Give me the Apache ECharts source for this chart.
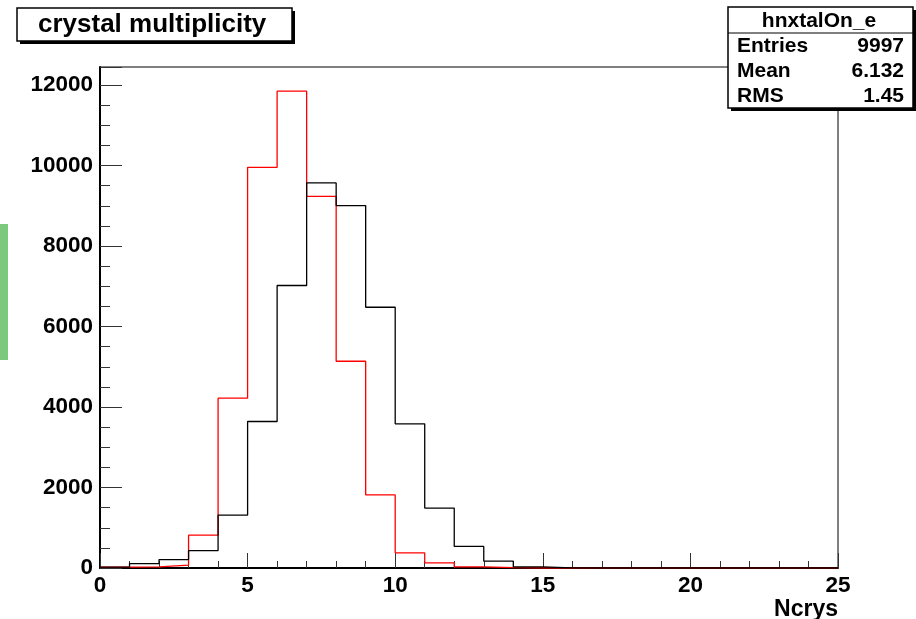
<!DOCTYPE html>
<html>
<head>
<meta charset="utf-8">
<script src="https://cdn.jsdelivr.net/npm/echarts@6/dist/echarts.min.js"></script>
<style>html,body{margin:0;padding:0;background:#fff}#c{width:916px;height:619px}</style>
</head>
<body>
<div id="c"></div>
<script>
// Bin low edges (Ncrys), 25 bins of width 1 from 0 to 25
const binEdges = [0,1,2,3,4,5,6,7,8,9,10,11,12,13,14,15,16,17,18,19,20,21,22,23,24];
// hnxtalOn_e (red) bin contents
const redCounts = [20,30,70,815,4220,9958,11850,9237,5138,1815,377,128,30,10,0,0,0,0,0,0,0,0,0,0,0];
// second histogram (black) bin contents
const blackCounts = [20,110,210,430,1315,3640,7020,9570,9006,6480,3582,1490,535,170,30,5,0,0,0,0,0,0,0,0,0];
const xTicks = [0,5,10,15,20,25];
const yTicks = [0,2000,4000,6000,8000,10000,12000];
const statsLabels = ['Entries','Mean','RMS'];
const statsValues = ['9997','6.132','1.45'];
const histName = 'hnxtalOn_e';
const titleText = 'crystal multiplicity';

const FONT = 'Liberation Sans';
function stepData(counts){
  const d = counts.map((v,i)=>[binEdges[i], v]);
  d.push([binEdges[binEdges.length-1]+1, counts[counts.length-1]]);
  return d;
}

const chart = echarts.init(document.getElementById('c'), null, {renderer:'canvas'});

const statsFont = 'bold 21px "'+FONT+'"';
const statsGraphics = [];
statsGraphics.push({type:'rect', z:100, shape:{x:731,y:10,width:185,height:101}, style:{fill:'#000'}});
statsGraphics.push({type:'rect', z:101, shape:{x:728,y:7,width:185,height:101}, style:{fill:'#fff', stroke:'#000', lineWidth:1.5}});
statsGraphics.push({type:'line', z:102, shape:{x1:728,y1:33,x2:913,y2:33}, style:{stroke:'#000', lineWidth:1}});
statsGraphics.push({type:'text', z:103, x:819, y:21, style:{text:histName, font:statsFont, fill:'#000', align:'center', verticalAlign:'middle'}});
const rowY = [46, 71, 96];
statsLabels.forEach((lab,i)=>{
  statsGraphics.push({type:'text', z:103, x:737, y:rowY[i], style:{text:lab, font:statsFont, fill:'#000', align:'left', verticalAlign:'middle'}});
  statsGraphics.push({type:'text', z:103, x:904, y:rowY[i], style:{text:statsValues[i], font:statsFont, fill:'#000', align:'right', verticalAlign:'middle'}});
});

const option = {
  animation:false,
  backgroundColor:'#fff',
  title:{
    text:titleText, left:38, top:10, padding:0, z:10,
    textStyle:{fontFamily:FONT, fontWeight:'bold', fontSize:26, color:'#000', lineHeight:30}
  },
  grid:{left:100, right:78, top:67, bottom:51, containLabel:false, outerBoundsMode:'none',
    show:true, borderColor:'#000', borderWidth:1, backgroundColor:'transparent'},
  xAxis:{
    type:'value', min:0, max:25, interval:5,
    name:'Ncrys', nameLocation:'end', nameGap:0,
    nameTextStyle:{fontFamily:FONT, fontWeight:'bold', fontSize:23, color:'#000', align:'right', verticalAlign:'top', padding:[30,0,0,0]},
    axisLine:{show:true, onZero:false, lineStyle:{color:'#000', width:2}},
    axisTick:{show:true, inside:true, length:15, lineStyle:{color:'#333', width:1}},
    minorTick:{show:true, splitNumber:5, length:7, lineStyle:{color:'#333', width:1}},
    axisLabel:{fontFamily:FONT, fontWeight:'bold', fontSize:22.5, color:'#000', margin:6,
      formatter:(v)=> xTicks.includes(v) ? String(v) : ''},
    splitLine:{show:false}
  },
  yAxis:{
    type:'value', min:0, max:12450, interval:2000,
    axisLine:{show:true, onZero:false, lineStyle:{color:'#000', width:2}},
    axisTick:{show:true, inside:true, length:22, lineStyle:{color:'#333', width:1}},
    minorTick:{show:true, splitNumber:4, length:10, lineStyle:{color:'#333', width:1}},
    axisLabel:{fontFamily:FONT, fontWeight:'bold', fontSize:22.5, color:'#000', margin:7,
      formatter:(v)=> yTicks.includes(v) ? String(v) : ''},
    splitLine:{show:false}
  },
  series:[
    {name:histName, type:'line', step:'end', symbol:'none', data:stepData(redCounts),
     lineStyle:{color:'#ff0000', width:1.3}, z:3},
    {name:'black', type:'line', step:'end', symbol:'none', data:stepData(blackCounts),
     lineStyle:{color:'#000', width:1.3}, z:4}
  ],
  graphic:[
    {type:'rect', z:0, shape:{x:0,y:224,width:8,height:136}, style:{fill:'#7cc87c'}},
    {type:'rect', z:1, shape:{x:20,y:11,width:275,height:33}, style:{fill:'#000'}},
    {type:'rect', z:2, shape:{x:17,y:8,width:275,height:33}, style:{fill:'#fff', stroke:'#000', lineWidth:1.5}}
  ].concat(statsGraphics)
};
chart.setOption(option);
</script>
</body>
</html>
